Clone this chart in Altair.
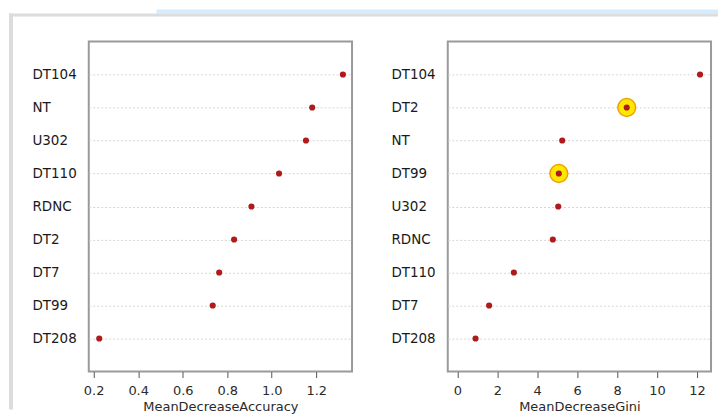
import altair as alt
import pandas as pd

acc_vars = ["DT104", "NT", "U302", "DT110", "RDNC", "DT2", "DT7", "DT99", "DT208"]
acc_vals = [1.32, 1.182, 1.154, 1.033, 0.909, 0.831, 0.764, 0.735, 0.225]
acc_ticks = [0.2, 0.4, 0.6, 0.8, 1.0, 1.2]

gini_vars = ["DT104", "DT2", "NT", "DT99", "U302", "RDNC", "DT110", "DT7", "DT208"]
gini_vals = [12.15, 8.48, 5.25, 5.08, 5.05, 4.78, 2.83, 1.59, 0.91]
gini_ticks = [0, 2, 4, 6, 8, 10, 12]

highlighted = ["DT2", "DT99"]

FONT = "DejaVu Sans"
W, H = 264, 331


def panel(vars_, vals, title, domain, ticks, fmt, hl=None, deco=False):
    df = pd.DataFrame({"var": vars_, "val": vals})
    y = alt.Y(
        "var:N", sort=vars_,
        scale=alt.Scale(type="point", padding=1),
        axis=alt.Axis(title=None, labelAlign="left", labelBaseline="middle",
                      labelPadding=57, ticks=False, tickSize=0, domain=False,
                      grid=True, gridDash=[2, 2], gridColor="#d6d6d6", gridWidth=1,
                      labelFont=FONT, labelFontSize=13.5, labelColor="#1a1a1a"),
    )
    x = alt.X(
        "val:Q",
        scale=alt.Scale(domain=domain, nice=False, zero=False),
        axis=alt.Axis(values=ticks, format=fmt, title=title, grid=False, domain=False,
                      tickSize=6, tickColor="#555", labelPadding=7, labelFlush=False,
                      labelFont=FONT, labelFontSize=13, labelColor="#2a2a2a",
                      titleFont=FONT, titleFontSize=13, titleFontWeight="normal",
                      titleColor="#2a2a2a", titlePadding=3),
    )
    base = alt.Chart(df).encode(x=x, y=y)
    layers = []
    if deco:
        d = alt.Chart(pd.DataFrame({"k": [0]}))
        layers.append(d.mark_rect(color="#d6ebfb").encode(
            x=alt.value(68), x2=alt.value(631), y=alt.value(-32), y2=alt.value(-28)))
        layers.append(d.mark_rect(color="#dcdcdc").encode(
            x=alt.value(-80), x2=alt.value(631), y=alt.value(-28), y2=alt.value(-25)))
        layers.append(d.mark_rect(color="#dcdcdc").encode(
            x=alt.value(-80), x2=alt.value(-76), y=alt.value(-28), y2=alt.value(369)))
    if hl:
        layers.append(base.transform_filter(alt.FieldOneOfPredicate(field="var", oneOf=hl))
                      .mark_point(filled=True, size=320, fill="#ffe800", stroke="#f0a000",
                                  strokeWidth=1.5, opacity=1))
    layers.append(base.mark_point(filled=True, size=38, color="#b01a1a", opacity=1))
    return alt.layer(*layers).properties(width=W, height=H)


left = panel(acc_vars, acc_vals, "MeanDecreaseAccuracy", [0.178, 1.361], acc_ticks, ".1f", deco=True)
right = panel(gini_vars, gini_vals, "MeanDecreaseGini", [-0.48, 12.7], gini_ticks, "d", hl=highlighted)

chart = (
    alt.hconcat(left, right, spacing=96, bounds="flush")
    .properties(padding=0)
    .configure_view(stroke="#9a9a9a", strokeWidth=2)
)

chart.save("out.html", embed_options={"renderer": "svg", "actions": False})
